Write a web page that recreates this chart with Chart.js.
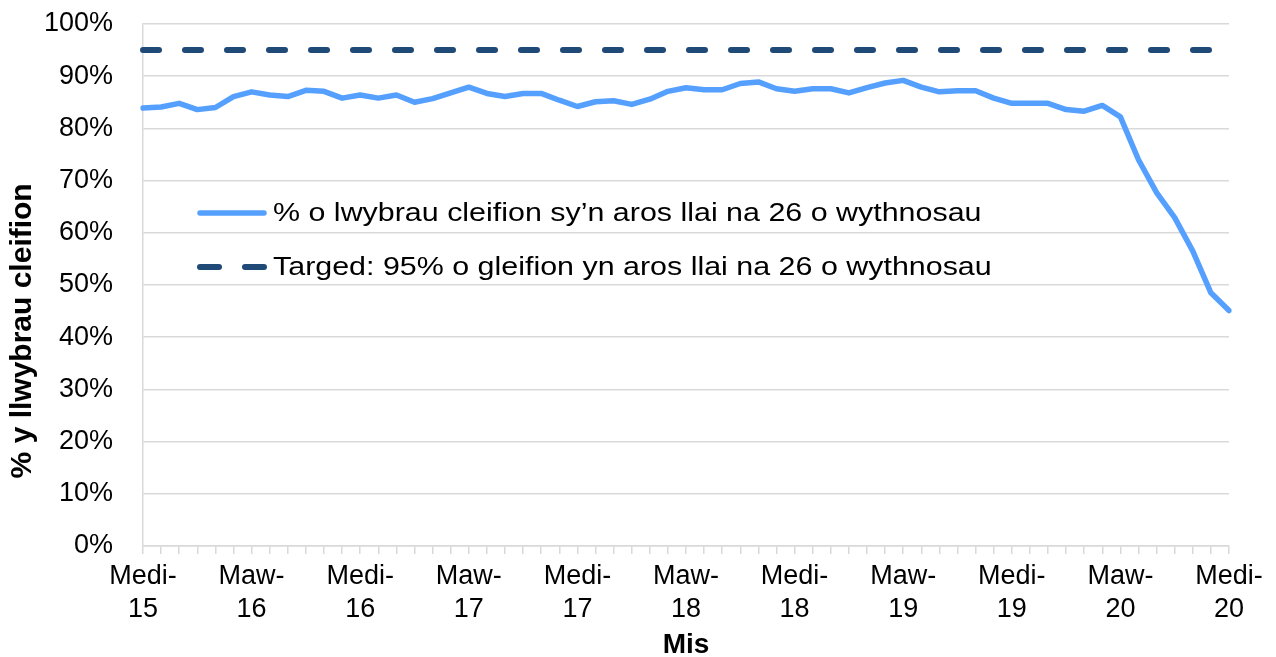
<!DOCTYPE html>
<html>
<head>
<meta charset="utf-8">
<script src="https://cdn.jsdelivr.net/npm/chart.js@4.4.1/dist/chart.umd.min.js"></script>
<style>
  html, body { margin: 0; padding: 0; background: #ffffff; }
  #wrap { width: 1276px; height: 657px; }
</style>
</head>
<body>
<div id="wrap"><canvas id="c" width="1276" height="657"></canvas></div>
<script>
const categories = [
  "Medi-15","Hyd-15","Tach-15","Rhag-15","Ion-16","Chwef-16","Maw-16","Ebr-16","Mai-16","Meh-16","Gorff-16","Awst-16",
  "Medi-16","Hyd-16","Tach-16","Rhag-16","Ion-17","Chwef-17","Maw-17","Ebr-17","Mai-17","Meh-17","Gorff-17","Awst-17",
  "Medi-17","Hyd-17","Tach-17","Rhag-17","Ion-18","Chwef-18","Maw-18","Ebr-18","Mai-18","Meh-18","Gorff-18","Awst-18",
  "Medi-18","Hyd-18","Tach-18","Rhag-18","Ion-19","Chwef-19","Maw-19","Ebr-19","Mai-19","Meh-19","Gorff-19","Awst-19",
  "Medi-19","Hyd-19","Tach-19","Rhag-19","Ion-20","Chwef-20","Maw-20","Ebr-20","Mai-20","Meh-20","Gorff-20","Awst-20",
  "Medi-20"
];
const tickLabels = ["Medi-15","Maw-16","Medi-16","Maw-17","Medi-17","Maw-18","Medi-18","Maw-19","Medi-19","Maw-20","Medi-20"];
const pathwaysUnder26 = [
  83.9, 84.1, 84.8, 83.6, 84.0, 86.1, 87.0, 86.4, 86.1, 87.3, 87.1, 85.8,
  86.4, 85.8, 86.4, 85.0, 85.7, 86.8, 87.9, 86.7, 86.1, 86.7, 86.7, 85.4,
  84.2, 85.1, 85.3, 84.6, 85.6, 87.1, 87.8, 87.4, 87.4, 88.6, 88.9, 87.6,
  87.1, 87.6, 87.6, 86.8, 87.8, 88.7, 89.2, 87.9, 87.0, 87.2, 87.2, 85.8,
  84.8, 84.8, 84.8, 83.6, 83.3, 84.4, 82.2, 74.0, 67.7, 62.9, 56.5, 48.5,
  45.1
];
const targetValues = categories.map(() => 95);
const seriesNames = [
  "% o lwybrau cleifion sy\u2019n aros llai na 26 o wythnosau",
  "Targed: 95% o gleifion yn aros llai na 26 o wythnosau"
];
const yTitle = "% y llwybrau cleifion";
const xTitle = "Mis";

const FONT = "'Liberation Sans', Arial, sans-serif";

const insideLegend = {
  id: 'insideLegend',
  afterDatasetsDraw(chart) {
    const ctx = chart.ctx;
    const rows = [213, 267];
    ctx.save();
    chart.data.datasets.forEach((ds, i) => {
      const y = rows[i];
      ctx.beginPath();
      ctx.strokeStyle = ds.borderColor;
      ctx.lineWidth = ds.borderWidth;
      ctx.lineCap = 'round';
      ctx.setLineDash([]);
      if (ds.borderDash && ds.borderDash.length) {
        ctx.moveTo(200, y); ctx.lineTo(219, y);
        ctx.moveTo(245, y); ctx.lineTo(264, y);
      } else {
        ctx.moveTo(200, y); ctx.lineTo(264, y);
      }
      ctx.stroke();
      ctx.save();
      ctx.translate(273, y + 1);
      ctx.scale(1.17, 1);
      ctx.fillStyle = '#000000';
      ctx.font = '26px ' + FONT;
      ctx.textBaseline = 'middle';
      ctx.textAlign = 'left';
      ctx.fillText(ds.label, 0, 0);
      ctx.restore();
    });
    ctx.restore();
  }
};

new Chart(document.getElementById('c'), {
  type: 'line',
  data: {
    labels: categories,
    datasets: [
      {
        label: seriesNames[0],
        data: pathwaysUnder26,
        borderColor: '#55A0FF',
        borderWidth: 5.5,
        pointRadius: 0,
        tension: 0,
        borderJoinStyle: 'round',
        borderCapStyle: 'round'
      },
      {
        label: seriesNames[1],
        data: targetValues,
        borderColor: '#1F4A78',
        borderWidth: 6,
        borderDash: [16, 26],
        borderCapStyle: 'round',
        pointRadius: 0,
        tension: 0
      }
    ]
  },
  plugins: [insideLegend],
  options: {
    responsive: false,
    animation: false,
    layout: { padding: { top: 24, right: 47, left: 0, bottom: 0 } },
    plugins: {
      legend: { display: false },
      tooltip: { enabled: false }
    },
    scales: {
      x: {
        afterFit(scale) { scale.height = 111; },
        grid: {
          drawOnChartArea: false,
          drawTicks: true,
          tickLength: 8,
          color: '#D9D9D9',
          lineWidth: 1.5
        },
        border: { display: true, color: '#D9D9D9', width: 1.5 },
        ticks: {
          autoSkip: false,
          maxRotation: 0,
          minRotation: 0,
          padding: 6,
          color: '#000000',
          font: { family: FONT, size: 27, lineHeight: 1.22 },
          callback(value, index) {
            const lab = categories[index];
            if (tickLabels.includes(lab)) {
              const parts = lab.split('-');
              return [parts[0] + '-', parts[1]];
            }
            return '';
          }
        },
        title: {
          display: true,
          text: xTitle,
          color: '#000000',
          font: { family: FONT, size: 28, weight: 'bold', lineHeight: 1 },
          padding: { top: 0, bottom: -2 }
        }
      },
      y: {
        min: 0,
        max: 100,
        afterFit(scale) { scale.width = 143; },
        grid: {
          color: '#D9D9D9',
          lineWidth: 1.5,
          drawTicks: true,
          tickLength: 30,
          tickColor: 'rgba(0,0,0,0)'
        },
        border: { display: true, color: '#D9D9D9', width: 1.5 },
        ticks: {
          stepSize: 10,
          padding: 0,
          color: '#000000',
          font: { family: FONT, size: 27 },
          callback(v) { return v + '%'; }
        },
        title: {
          display: true,
          text: yTitle + '           ',
          color: '#000000',
          font: { family: FONT, size: 30, weight: 'bold', lineHeight: 1.2 },
          padding: { top: 5, bottom: 0 }
        }
      }
    }
  }
});
</script>
</body>
</html>
